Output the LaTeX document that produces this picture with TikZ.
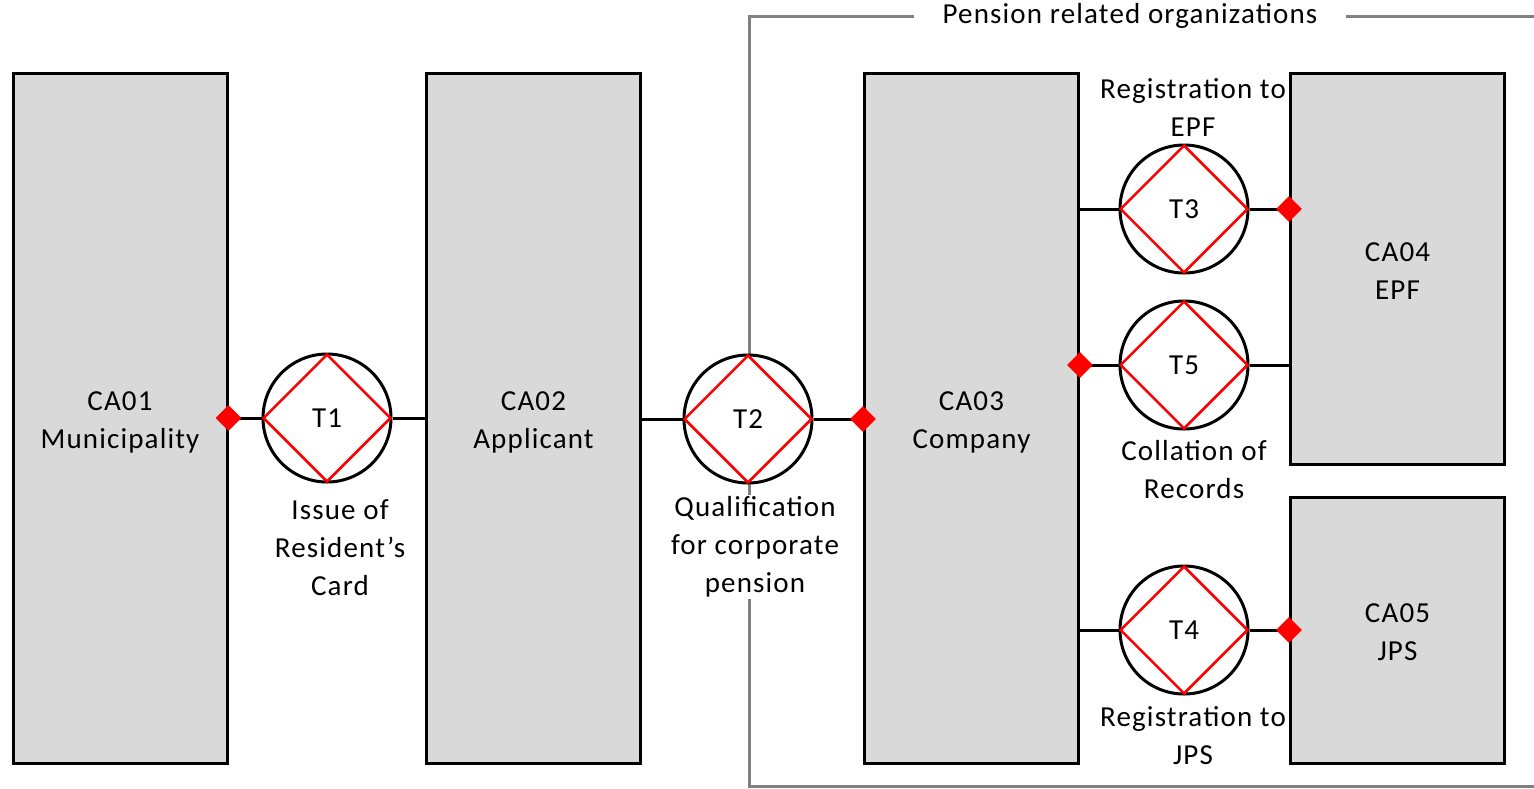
\documentclass[tikz,border=0pt]{standalone}
\usepackage{fontspec}
\setmainfont[LetterSpace=4]{Carlito}
\usetikzlibrary{shapes.geometric}
\definecolor{boxgray}{HTML}{D9D9D9}
\definecolor{framegray}{HTML}{808080}
\newcommand{\acttext}[2]{\raisebox{-4pt}[\height][\depth]{\begin{tabular}{@{}c@{}}#1\\#2\end{tabular}}}
\tikzset{
  actor/.style={draw=black, fill=boxgray, line width=3pt, minimum width=214pt, align=center, inner sep=0pt},
  tcircle/.style={circle, draw=black, fill=white, line width=3pt, minimum size=128pt, inner sep=0pt},
  tdiamond/.style={diamond, draw=red, line width=2.5pt, minimum width=128pt, minimum height=128pt, inner sep=0pt},
  marker/.style={diamond, fill=red, minimum width=26pt, minimum height=26pt, inner sep=0pt},
  conn/.style={draw=black, line width=3pt},
  lbl/.style={fill=white, align=center, inner sep=2pt},
  frame/.style={draw=framegray, line width=3pt},
}
\begin{document}
\begin{tikzpicture}[x=1pt, y=-1pt, font=\fontsize{29}{38}\selectfont]
\useasboundingbox (0,0) rectangle (1534,788);
% frame
\node[fill=white, inner xsep=28pt, inner ysep=2pt] (title) at (1130,16) {Pension related organizations};
\draw[frame] (title.west |- 0,16) -- (749,16) -- (749,786) -- (1540,786);
\draw[frame] (title.east |- 0,16) -- (1540,16);
% actors
\node[actor, minimum height=690pt] (ca01) at (120,418) {\acttext{CA01}{Municipality}};
\node[actor, minimum height=690pt] (ca02) at (533.5,418) {\acttext{CA02}{Applicant}};
\node[actor, minimum height=690pt] (ca03) at (971.5,418) {\acttext{CA03}{Company}};
\node[actor, minimum height=391pt] (ca04) at (1397.5,268.5) {\acttext{CA04}{EPF}};
\node[actor, minimum height=266pt] (ca05) at (1397.5,630) {\acttext{CA05}{JPS}};
% transactions
\node[tcircle] (t1c) at (327,418) {};
\node[tcircle] (t2c) at (748,419) {};
\node[tcircle] (t3c) at (1184,209) {};
\node[tcircle] (t5c) at (1184,365) {};
\node[tcircle] (t4c) at (1184,630) {};
\node[tdiamond] (t1) at (t1c) {T1};
\node[tdiamond] (t2) at (t2c) {T2};
\node[tdiamond] (t3) at (t3c) {T3};
\node[tdiamond] (t5) at (t5c) {T5};
\node[tdiamond] (t4) at (t4c) {T4};
% markers positions
\coordinate (m1) at (ca01.east |- t1c);
\coordinate (m2) at (ca03.west |- t2c);
\coordinate (m3) at (ca04.west |- t3c);
\coordinate (m5) at (ca03.east |- t5c);
\coordinate (m4) at (ca05.west |- t4c);
% connectors
\draw[conn] (m1) -- (t1c.west);
\draw[conn] (t1c.east) -- (ca02.west |- t1c);
\draw[conn] (ca02.east |- t2c) -- (t2c.west);
\draw[conn] (t2c.east) -- (m2);
\draw[conn] (ca03.east |- t3c) -- (t3c.west);
\draw[conn] (t3c.east) -- (m3);
\draw[conn] (m5) -- (t5c.west);
\draw[conn] (t5c.east) -- (ca04.west |- t5c);
\draw[conn] (ca03.east |- t4c) -- (t4c.west);
\draw[conn] (t4c.east) -- (m4);
% markers
\node[marker] (d1) at (m1) {};
\node[marker] (d2) at (m2) {};
\node[marker] (d3) at (m3) {};
\node[marker] (d5) at (m5) {};
\node[marker] (d4) at (m4) {};
% labels
\node[lbl] (l1) at (340,548) {Issue of\\Resident’s\\Card};
\node[lbl] (l2) at (755,547) {Qualification\\for corporate\\pension};
\node[lbl] (l3) at (1193,107) {Registration to\\EPF};
\node[lbl] (l5) at (1194,470) {Collation of\\Records};
\node[lbl] (l4) at (1193,736) {Registration to\\JPS};
\end{tikzpicture}
\end{document}
